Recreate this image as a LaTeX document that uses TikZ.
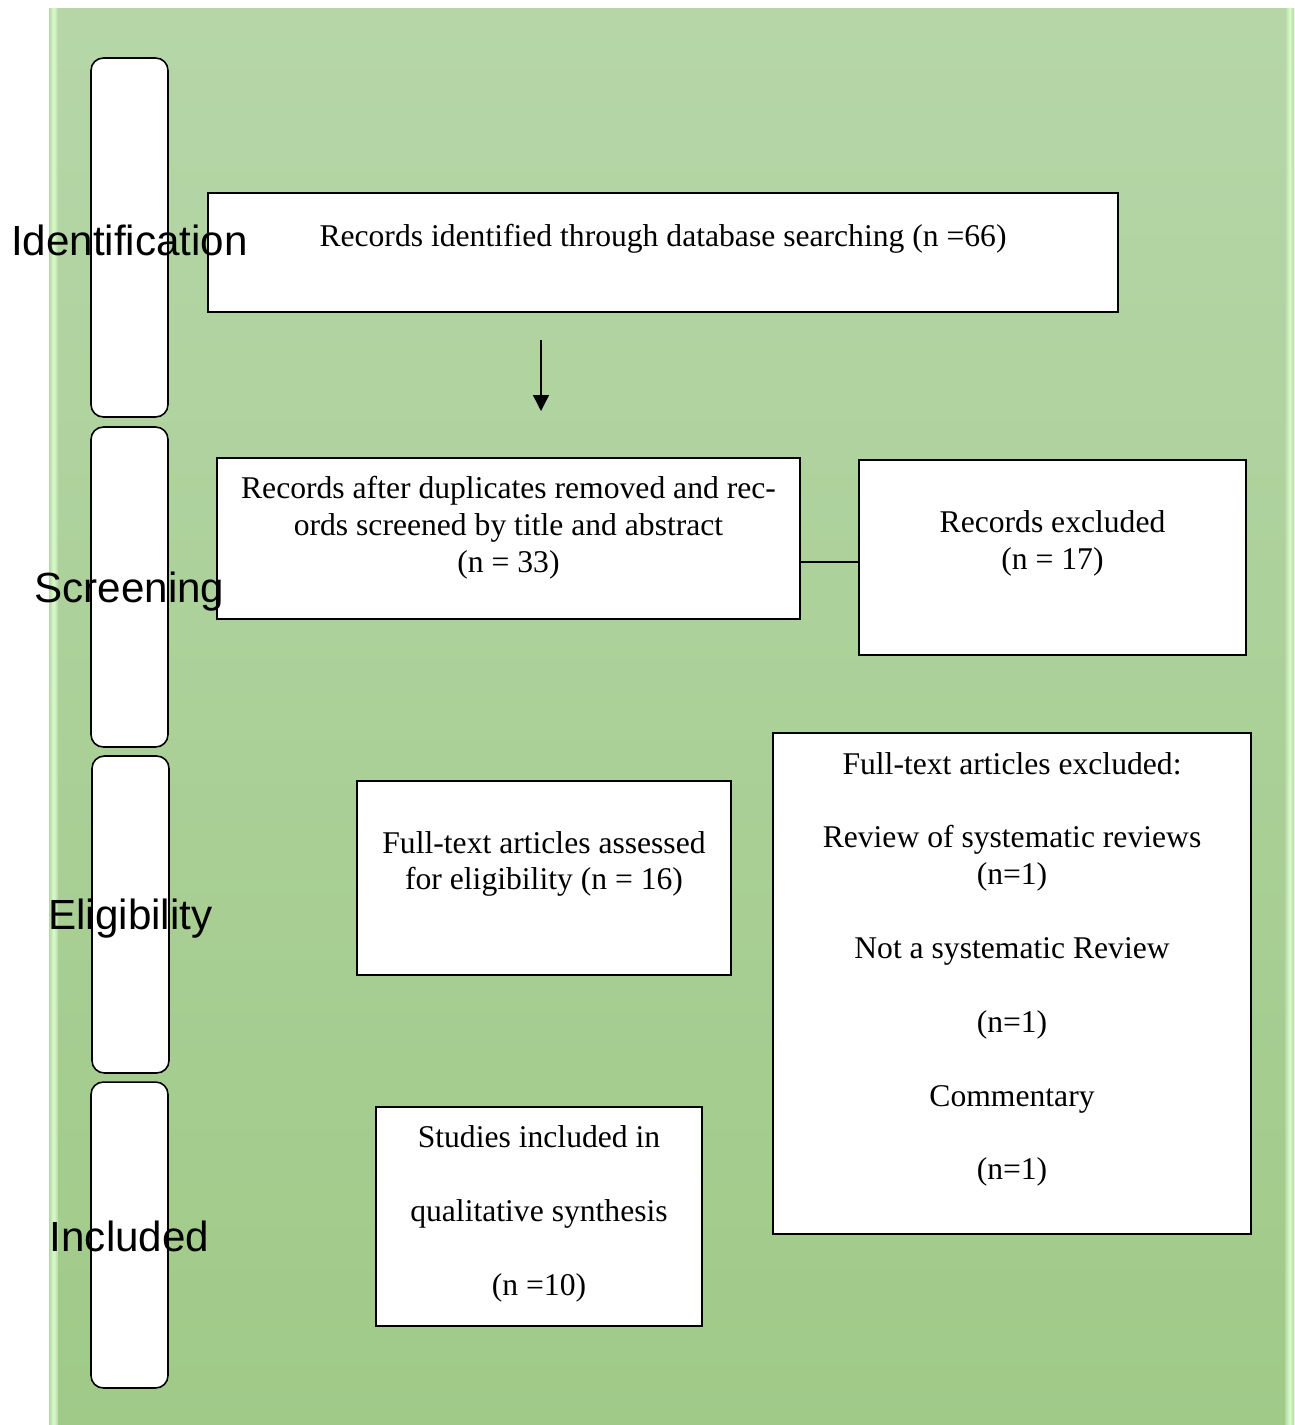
\documentclass[tikz,border=0pt]{standalone}
\usepackage{fontspec}
\setmainfont{Liberation Serif}
\newfontfamily\stagefont{Liberation Sans}
\usetikzlibrary{arrows.meta,positioning}
\definecolor{bgtop}{HTML}{B6D6A8}
\definecolor{bgbot}{HTML}{A0CA88}
\definecolor{bevel}{HTML}{D8FDC8}

\begin{document}
\begin{tikzpicture}[x=0.02cm,y=-0.02cm,
    box/.style={draw, fill=white, line width=0.9pt, inner sep=0pt},
    stagebox/.style={box, rounded corners=7pt, minimum width=1.54cm},
    txt/.style={align=center, font=\fontsize{18}{21}\selectfont, inner sep=0pt},
    stagetxt/.style={font=\stagefont\fontsize{24}{28}\selectfont, inner sep=0pt}]
\useasboundingbox (0,0) rectangle (1294,1425);

% background
\fill[top color=bgtop, bottom color=bgbot] (49,9) rectangle (1294,1425);
\fill[left color=bgtop, right color=bgtop, middle color=bevel] (49,9) rectangle (58,1425);
\fill[left color=bgtop, right color=bgtop, middle color=bevel] (1285,9) rectangle (1294,1425);

% stages
\node[stagebox, minimum height=7.18cm] (ident) at (129.5,237.5) {};
\node[stagebox, minimum height=6.4cm] (scrn) at (129.5,587) {};
\node[stagebox, minimum height=6.34cm] (elig) at (130.5,914.5) {};
\node[stagebox, minimum height=6.12cm] (incl) at (129.5,1235) {};

% boxes
\node[box, minimum width=18.2cm, minimum height=2.38cm] (found) at (663,252.5) {};
\node[box, minimum width=11.66cm, minimum height=3.22cm] (screened) at (508.5,538.5) {};
\node[box, minimum width=7.74cm, minimum height=3.9cm] (excl) at (1052.5,557.5) {};
\node[box, minimum width=7.48cm, minimum height=3.88cm] (full) at (544,878) {};
\node[box, minimum width=9.56cm, minimum height=10.02cm] (fullexcl) at (1012,983.5) {};
\node[box, minimum width=6.52cm, minimum height=4.38cm] (studies) at (539,1216.5) {};

% texts
\node[stagetxt] (identtxt) at ([yshift=-1.5pt]ident.center) {Identification};
\node[stagetxt] (scrntxt) at ([yshift=-2.5pt]scrn.center) {Screening};
\node[stagetxt] (eligtxt) at ([yshift=-2.5pt]elig.center) {Eligibility};
\node[stagetxt] (incltxt) at ([yshift=-1pt]incl.center) {Included};

\node[txt] (foundtxt) at ([yshift=8pt]found.center) {Records identified through database searching (n =66)};
\node[txt] (screenedtxt) at ([yshift=6.3pt]screened.center) {Records after duplicates removed and rec-\\ords screened by title and abstract\\(n = 33)};
\node[txt] (excltxt) at ([yshift=8pt]excl.center) {Records excluded\\(n = 17)};
\node[txt] (fulltxt) at ([yshift=8pt]full.center) {Full-text articles assessed\\for eligibility (n = 16)};
\node[txt] (fullexcltxt) at ([yshift=8pt]fullexcl.center) {Full-text articles excluded:\\[21pt]Review of systematic reviews\\(n=1)\\[21pt]Not a systematic Review\\[21pt](n=1)\\[21pt]Commentary\\[21pt](n=1)};
\node[txt] (studiestxt) at ([yshift=1.5pt]studies.center) {Studies included in\\[21pt]qualitative synthesis\\[21pt](n =10)};

% connectors
\coordinate (arrtop) at (541,340);
\coordinate (arrbot) at (541,411);
\coordinate (exclin) at ([yshift=-2.5pt]excl.west);
\draw[-{Triangle[width=9pt,length=9pt]}, line width=0.8pt] (arrtop) -- (arrbot);
\draw[line width=1.1pt] (exclin -| screened.east) -- (exclin);
\end{tikzpicture}
\end{document}
